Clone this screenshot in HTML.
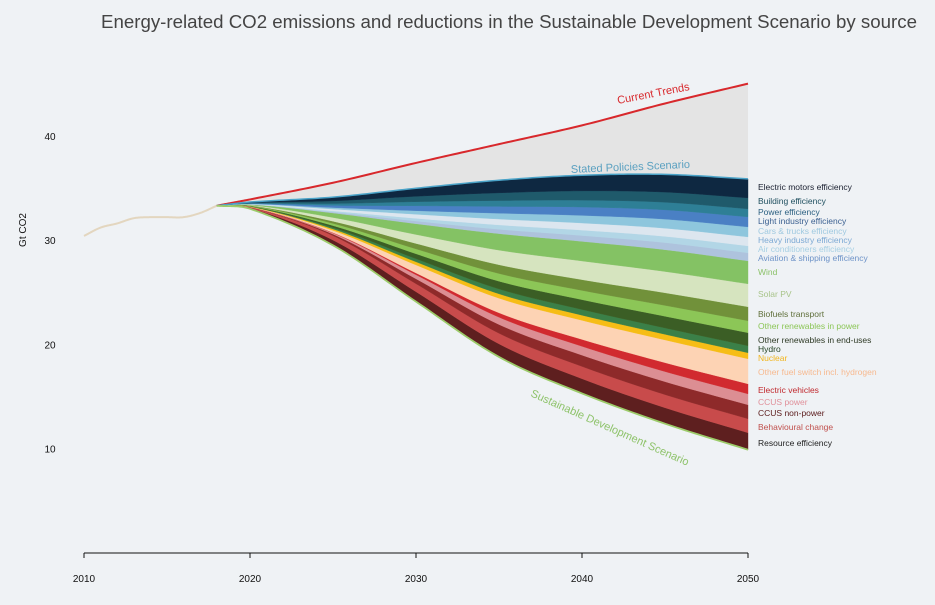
<!DOCTYPE html>
<html><head><meta charset="utf-8">
<style>
html,body{margin:0;padding:0;background:#eff2f5;}
body{width:935px;height:600px;overflow:hidden;font-family:"Liberation Sans",Arial,sans-serif;}
</style></head>
<body>
<svg id="chart" width="935" height="600" xmlns="http://www.w3.org/2000/svg">
<rect width="935" height="600" fill="#eff2f5"/>
<text x="101" y="28" font-size="18" fill="#444" textLength="816" lengthAdjust="spacingAndGlyphs" font-family="Liberation Sans, sans-serif">Energy-related CO2 emissions and reductions in the Sustainable Development Scenario by source</text>
<g id="bands"></g>
<g id="lines"></g>
<g id="axes"></g>
<g id="labels"></g>
</svg>
<script>
const years = [2018, 2020, 2025, 2030, 2035, 2040, 2045, 2050];
const histYears = [2010,2011,2012,2013,2014,2015,2016,2017,2018];
const histValues = [30.4,31.2,31.6,32.1,32.2,32.2,32.2,32.6,33.3];
const sdsValues = [33.3,33.0,29.5,24.1,18.8,15.3,12.4,9.9];
const stepsValues = [33.3,33.6,34.2,34.8,35.2,35.6,35.9,35.9];
const currentValues = [33.3,33.9,35.5,37.4,39.2,41.0,43.1,45.0];
// bands, bottom to top
const bandNames = ["Resource efficiency","Behavioural change","CCUS non-power","CCUS power","Electric vehicles","Other fuel switch incl. hydrogen","Nuclear","Hydro","Other renewables in end-uses","Other renewables in power","Biofuels transport","Solar PV","Wind","Aviation & shipping efficiency","Air conditioners efficiency","Heavy industry efficiency","Cars & trucks efficiency","Light industry efficiency","Power efficiency","Building efficiency","Electric motors efficiency"];
const resource = [0,.08,.5,.95,1.25,1.41,1.53,1.63];
const behav = [0,.07,.43,.77,1.02,1.18,1.26,1.34];
const ccusNon = [0,.02,.14,.47,.84,1.08,1.24,1.34];
const ccusPower = [0,.01,.11,.39,.7,.85,.97,1.05];
const ev = [0,.01,.04,.17,.42,.66,.85,.96];
const otherFuel = [0,.02,.21,.77,1.4,1.83,2.18,2.4];
const nuclear = [0,.02,.14,.3,.42,.49,.54,.58];
const hydro = [0,.02,.14,.3,.47,.55,.61,.67];
const orEnd = [0,.02,.18,.47,.74,.94,1.12,1.25];
const orPower = [0,.03,.21,.47,.74,.89,1.04,1.15];
const biofuels = [0,.03,.21,.52,.84,1.03,1.21,1.34];
const solar = [0,.04,.36,.86,1.4,1.79,2.04,2.2];
const wind = [0,.05,.43,1.03,1.58,1.88,2.09,2.2];
const aviation = [0,.01,.09,.26,.42,.56,.68,.77];
const aircon = [0,.01,.11,.26,.42,.52,.6,.67];
const heavy = [0,.02,.18,.39,.56,.68,.78,.86];
const cars = [0,.02,.14,.34,.56,.73,.87,.96];
const light = [0,.03,.21,.47,.65,.8,.89,.96];
const power = [0,.03,.18,.39,.56,.66,.73,.77];
const building = [0,.04,.25,.52,.74,.89,.97,1.05];
const motors = [0,.07,.36,.77,1.21,1.5,1.7,1.82];
const bandValues = [resource,behav,ccusNon,ccusPower,ev,otherFuel,nuclear,hydro,orEnd,orPower,biofuels,solar,wind,aviation,aircon,heavy,cars,light,power,building,motors];
const bandColors = ["#5e1f1f","#c84b4b","#8e2a2a","#dc8e93","#d12a2f","#fdd3b4","#f6bd16","#3b8048","#3b5e25","#8cc657","#71913a","#d6e4bf","#84c264","#aec3dd","#b2d6e6","#dce6ef","#8ec6dd","#4a80c4","#2e7f96","#1f5a6b","#0e2841"];
const labelColors = ["#222","#c0504d","#5a1a1a","#e0909a","#c0282d","#f7b98f","#f2b51c","#1f3f1f","#2e3a25","#8cc657","#5f6f3a","#a8c48a","#8cc26a","#6e93c8","#a7d0e4","#7da9d4","#9fc9e0","#3a5f90","#2a5f80","#1f4f5f","#1a2030"];
const labelY = [443,427,413,402,390,372,358,349,340,326,314,294,272,258,249,240,231,221,212,201,187];
const xTicks = [2010,2020,2030,2040,2050];
const yTicks = [10,20,30,40];

const NS = "http://www.w3.org/2000/svg";
const X = y => 84 + (y - 2010) * 16.6;
const Y = v => 553 - v * 10.43;

// cubic Hermite (Catmull-Rom style) interpolation -> dense points
function dense(xs, vs){
  const n = xs.length, m = new Array(n);
  m[0]=(vs[1]-vs[0])/(xs[1]-xs[0]); m[n-1]=(vs[n-1]-vs[n-2])/(xs[n-1]-xs[n-2]);
  for(let i=1;i<n-1;i++) m[i]=(vs[i+1]-vs[i-1])/(xs[i+1]-xs[i-1]);
  const out=[];
  for(let i=0;i<n-1;i++){
    const h=xs[i+1]-xs[i];
    for(let k=0;k<20;k++){
      const t=k/20, t2=t*t, t3=t2*t;
      const v=(2*t3-3*t2+1)*vs[i]+(t3-2*t2+t)*h*m[i]+(-2*t3+3*t2)*vs[i+1]+(t3-t2)*h*m[i+1];
      out.push([xs[i]+t*h, v]);
    }
  }
  out.push([xs[n-1], vs[n-1]]);
  return out;
}
function pathOf(pts){ return pts.map((p,i)=>(i?"L":"M")+X(p[0]).toFixed(2)+","+Y(p[1]).toFixed(2)).join(""); }
function mk(tag, attrs, parent){ const e=document.createElementNS(NS,tag); for(const k in attrs) e.setAttribute(k, attrs[k]); parent.appendChild(e); return e; }

const bandsG = document.getElementById('bands'), linesG=document.getElementById('lines'), axesG=document.getElementById('axes'), labelsG=document.getElementById('labels');

const curD = dense(years, currentValues), stepsD = dense(years, stepsValues);
const gray = mk('path', {d: pathOf(curD) + pathOf(stepsD.slice().reverse()).replace('M','L') + 'Z', fill:'#e4e4e4'}, bandsG);



let cum = sdsValues.slice();
bandValues.forEach((arr, i) => {
  const top = cum.map((c,j)=>c+arr[j]);
  const lo = dense(years, cum), hi = dense(years, top);
  const p = mk('path', {d: pathOf(hi) + pathOf(lo.slice().reverse()).replace('M','L') + 'Z', fill: bandColors[i], stroke: bandColors[i], 'stroke-width': 0.4}, bandsG);
  
  
  cum = top;
});

const hist = mk('path', {d: pathOf(dense(histYears, histValues)), fill:'none', stroke:'#e3d6bf', 'stroke-width':2}, linesG);


const cl = mk('path', {d: pathOf(curD), fill:'none', stroke:'#d8282c', 'stroke-width':2}, linesG);


const sl = mk('path', {d: pathOf(dense(years, cum)), fill:'none', stroke:'#4aa3c8', 'stroke-width':1.5}, linesG);


const dl = mk('path', {d: pathOf(dense(years, sdsValues)), fill:'none', stroke:'#9ccb6a', 'stroke-width':1.8}, linesG);



const axl = mk('line', {x1:X(2010), x2:X(2050), y1:553, y2:553, stroke:'#111', 'stroke-width':1}, axesG);


xTicks.forEach(t => {
  const tk = mk('line', {x1:X(t), x2:X(t), y1:553, y2:558, stroke:'#111'}, axesG);
  
  
  const tx = mk('text', {x:X(t), y:582, 'text-anchor':'middle', 'font-size':10, fill:'#111'}, axesG);
  tx.textContent = t;
  
  
});
yTicks.forEach(t => {
  const tx = mk('text', {x:50, y:Y(t)+4, 'text-anchor':'middle', 'font-size':10, fill:'#111'}, axesG);
  tx.textContent = t;
  
  
});
const yt = mk('text', {x:0, y:0, transform:'translate(26,230) rotate(-90)', 'text-anchor':'middle', 'font-size':10, fill:'#111'}, axesG);
yt.textContent = 'Gt CO2';



bandNames.forEach((n,i) => {
  const tx = mk('text', {x:758, y:labelY[i]+3, 'font-size':8.5, fill:labelColors[i]}, labelsG);
  tx.textContent = n;
  
  
});

const a1 = mk('text', {x:0, y:0, transform:'translate(618,104) rotate(-11)', 'font-size':11, fill:'#d8282c'}, labelsG);
a1.textContent = 'Current Trends';


const a2 = mk('text', {x:0, y:0, transform:'translate(571,173) rotate(-2.5)', 'font-size':11, fill:'#5aa0c0'}, labelsG);
a2.textContent = 'Stated Policies Scenario';


const a3 = mk('text', {x:0, y:0, transform:'translate(530,396) rotate(24)', 'font-size':11, fill:'#8ec36a'}, labelsG);
a3.textContent = 'Sustainable Development Scenario';


</script>
</body></html>
